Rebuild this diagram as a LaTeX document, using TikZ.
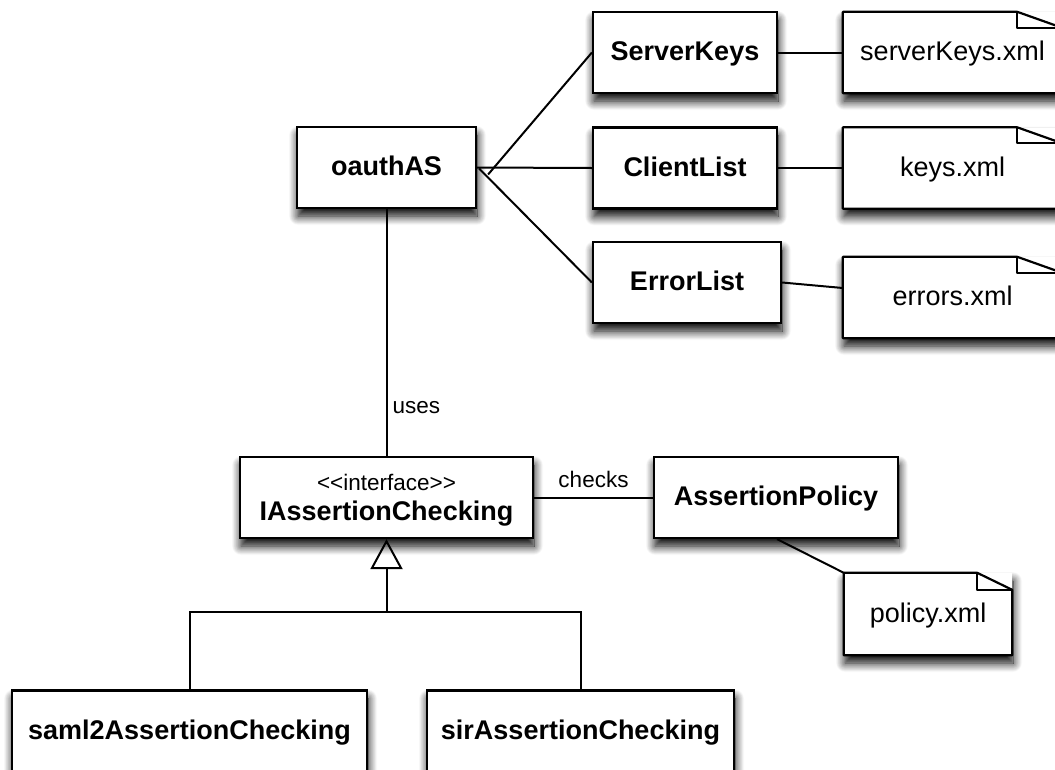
\documentclass[tikz,border=0pt]{standalone}
\usepackage{fontspec}
\newfontfamily\lsans{Liberation Sans}
\usetikzlibrary{shadows.blur,arrows.meta,calc}
\newcommand\noteoutline[3]{%
  \draw[noteline] (#1.south west) -- (#1.north west) -- ($(#1.north east)+(-#2,0)$) -- ($(#1.north east)+(0,#3)$) -- (#1.south east) -- cycle;
  \draw[noteline] ($(#1.north east)+(-#2,0)$) -- ($(#1.north east)+(-#2,#3)$) -- ($(#1.north east)+(0,#3)$);}
\begin{document}
\begin{tikzpicture}[x=1pt,y=-1pt,
  every node/.style={font=\lsans},
  shad/.style={blur shadow={shadow xshift=1pt,shadow yshift=-8pt,shadow blur radius=9pt,shadow opacity=100,shadow blur steps=14}},
  bigbold/.style={font=\lsans\bfseries\fontsize{27pt}{30pt}\selectfont},
  one/.style={text height=20pt, text depth=4pt},
  cls/.style={draw, line width=2.2pt, fill=white, shad, bigbold, one, minimum height=81pt, inner sep=0pt},
  note/.style={fill=white, shad, one, font=\lsans\fontsize{27pt}{30pt}\selectfont, minimum height=81pt, minimum width=219pt, inner sep=0pt},
  noteline/.style={line width=2.2pt, line join=round},
  conn/.style={line width=2pt},
  lbl/.style={font=\lsans\fontsize{22.5pt}{26pt}\selectfont, inner sep=0pt, text height=16.5pt, text depth=3.5pt}
]
\useasboundingbox (0,0) rectangle (1055,769);
\clip (0,0) rectangle (1055,769);

\node[cls, minimum width=179pt] (oauth) at (386.5,167.5) {oauthAS};
\node[cls, minimum width=184pt] (sk) at (685,52.5) {ServerKeys};
\node[cls, minimum width=184pt] (cl) at (685,168) {ClientList};
\node[cls, minimum width=188pt] (el) at (687,282.5) {ErrorList};

\node[note] (skn) at (952.5,52.5) {serverKeys.xml};
\noteoutline{skn}{45}{16}
\node[note] (kn) at (952.5,168) {keys.xml};
\noteoutline{kn}{45}{16}
\node[note] (en) at (952.5,297.5) {errors.xml};
\noteoutline{en}{45}{16}

\node[cls, minimum width=293pt] (iac) at (386.5,497.5) {};
\node[lbl] (iacst) at ($(iac.center)+(0,-14)$) {<<interface>>};
\node[bigbold, one, inner sep=0pt] (iacname) at ($(iac.center)+(0,15)$) {IAssertionChecking};
\node[cls, minimum width=244pt] (ap) at (776,497.5) {AssertionPolicy};
\node[note, minimum width=168pt, minimum height=82pt] (pn) at (928,614) {policy.xml};
\noteoutline{pn}{35}{17}

\node[cls, minimum width=355pt] (saml) at (189.5,731) {saml2AssertionChecking};
\node[cls, minimum width=307pt] (sir) at (580.5,731) {sirAssertionChecking};

\draw[conn] ($(oauth.east)+(11,7)$) -- (sk.west);
\draw[conn] (oauth.east) -- (cl.west);
\draw[conn] ($(oauth.east)+(2,1)$) -- (el.west);
\draw[conn] (sk.east) -- (skn.west);
\draw[conn] (cl.east) -- (kn.west);
\draw[conn] (el.east) -- ($(en.west)+(0,-9.5)$);
\draw[conn] (oauth.south) -- node[lbl, right, pos=0.8, xshift=5pt] (uses) {uses} (iac.north);
\draw[conn] (iac.east) -- node[lbl, above, yshift=6pt] (checks) {checks} (ap.west);
\draw[conn] ($(ap.south)+(1,0)$) -- (pn.north west);

\coordinate (split) at ($(iac.south)+(0,73)$);
\draw[conn] (saml.north) |- (split) -| (sir.north);
\draw[conn, -{Triangle[open, width=32pt, length=30pt]}] (split) -- (iac.south);
\end{tikzpicture}
\end{document}
